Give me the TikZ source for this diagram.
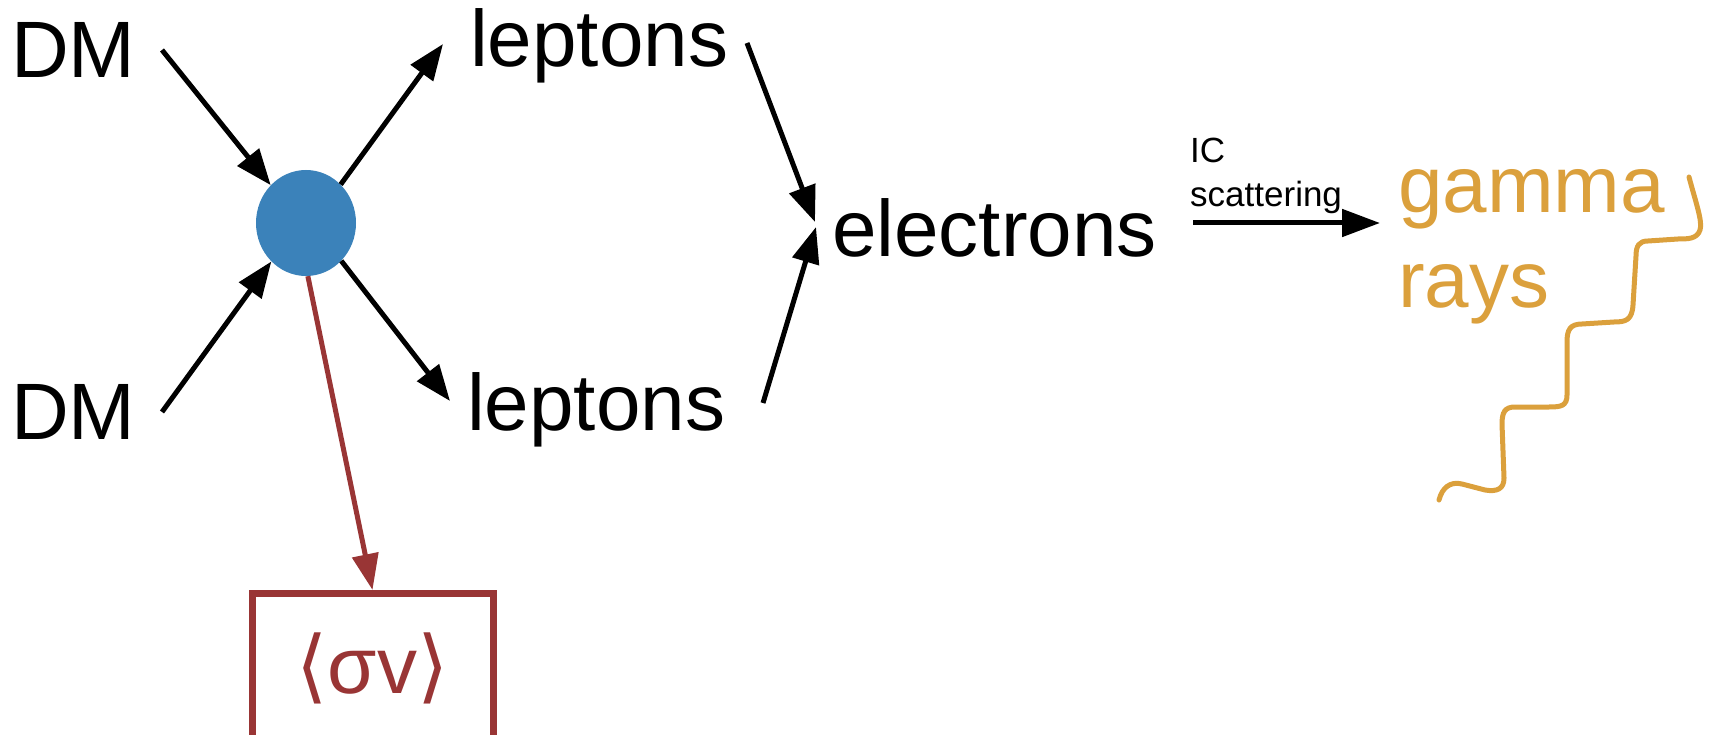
\documentclass[tikz,border=0pt]{standalone}
\usepackage{fontspec}
\setmainfont{Liberation Sans}
\newfontfamily\dejavu{DejaVu Sans}
\usetikzlibrary{arrows.meta,shapes.geometric}
\definecolor{blobblue}{RGB}{59,130,186}
\definecolor{sigred}{RGB}{153,53,53}
\definecolor{gamorange}{RGB}{219,160,60}
\tikzset{
  bigtext/.style={inner sep=0pt, anchor=base west, font=\fontsize{80pt}{95pt}\selectfont},
  arr/.style={line width=5pt, -{Triangle[length=36pt,width=27pt]}},
  redarr/.style={line width=5pt, draw=sigred, -{Triangle[length=36pt,width=26pt]}, color=sigred},
  sbox/.style={draw=sigred, line width=7pt, text=sigred, inner sep=0pt,
    font=\fontsize{80pt}{95pt}\selectfont},
  wave/.style={draw=gamorange, line width=5pt, line cap=round}
}
\begin{document}
\begin{tikzpicture}[x=1pt,y=-1pt]
\useasboundingbox (0,0) rectangle (1713,735);
\clip (0,0) rectangle (1713,735);

% texts
\node[bigtext] (dm1) at (11,78) {DM};
\node[bigtext] (dm2) at (11,439) {DM};
\node[bigtext] (lep1) at (470,67) {leptons};
\node[bigtext] (lep2) at (467,430) {leptons};
\node[bigtext] (el) at (832,257) {electrons};
% base anchor of a multi-line node = baseline of its last line
\node[bigtext, align=left, text=gamorange] (gam) at (1398,308) {gamma\\rays};
\node[inner sep=0pt, anchor=base west, align=left,
      font=\fontsize{35pt}{44pt}\selectfont] (ic) at (1190,207) {IC\\scattering};

% blob
\node[ellipse, fill=blobblue, minimum width=100pt, minimum height=106pt, inner sep=0pt] (blob) at (306,223) {};

% sigma-v box
\node[sbox, anchor=north, minimum width=241pt, text height=99.5pt, text depth=67pt] (sv)
  at (372.5,590) {{\dejavu ⟨}σv{\dejavu ⟩}};

% free ends
\coordinate (a1) at (162,50);
\coordinate (a2) at (162,412);
\coordinate (b1) at (443,44);
\coordinate (b2) at (450,401);
\coordinate (c1) at (747,43);
\coordinate (c2) at (763,403);
\coordinate (e1) at (815,222);
\coordinate (e2) at (816,227);
\coordinate (ic1) at (1193,223);
\coordinate (ic2) at (1380,223);

% connectors
\draw[arr] (a1) -- (blob.133);
\draw[arr] (a2) -- (blob.228);
\draw[arr] (blob.48) -- (b1);
\draw[arr] (blob.313) -- (b2);
\draw[arr] (c1) -- (e1);
\draw[arr] (c2) -- (e2);
\draw[line width=5pt, -{Triangle[length=38pt,width=27pt]}] (ic1) -- (ic2);
\draw[redarr] (blob.272) -- (sv.north);

% wavy gamma line
\draw[wave] (1689,177) .. controls (1695,200) and (1703,222) .. (1700,230)
  .. controls (1697,239) and (1688,239) .. (1678,239) -- (1648,241)
  .. controls (1639,241) and (1636,246) .. (1636,256) -- (1633,305)
  .. controls (1632,320) and (1626,322) .. (1614,322) -- (1582,324)
  .. controls (1570,324) and (1567,330) .. (1567,342) -- (1567,395)
  .. controls (1567,406) and (1561,407) .. (1549,407) -- (1515,407)
  .. controls (1505,407) and (1502,412) .. (1502,424) -- (1504,478)
  .. controls (1504,489) and (1497,492) .. (1485,490) -- (1462,484)
  .. controls (1450,481) and (1442,488) .. (1439,500);
\end{tikzpicture}
\end{document}
